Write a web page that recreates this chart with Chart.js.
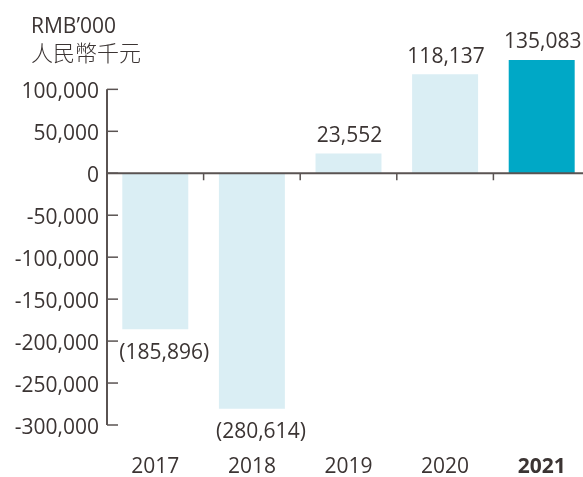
<!DOCTYPE html>
<html>
<head>
<meta charset="utf-8">
<script src="https://cdn.jsdelivr.net/npm/chart.js@4/dist/chart.umd.min.js"></script>
<style>
  html,body{margin:0;padding:0;background:#fff;overflow:hidden}
  #wrap{position:relative;width:583px;height:477px;overflow:hidden}
  #cv{position:absolute;left:0;top:0}
  .ttl{position:absolute;left:31px;color:#3b3433;line-height:26px;white-space:nowrap}
</style>
</head>
<body>
<div id="wrap">
  <canvas id="cv" width="600" height="477"></canvas>
  <div class="ttl" style="top:12px;font-size:21px;font-family:'Open Sans',sans-serif">RMB’000</div>
  <div class="ttl" style="top:38px;font-size:22px;font-family:'Noto Sans CJK TC',sans-serif;font-weight:300">人民幣千元</div>
</div>
<script>
/* ===== datos ===== */
const years=['2017','2018','2019','2020','2021'];
const profit=[-185896,-280614,23552,118137,135083];
const yTickVals=[100000,50000,0,-50000,-100000,-150000,-200000,-250000,-300000];

const TXT='#3b3433';
const AXIS='#5a5352';
const LIGHT='#daeef4';
const DARK='#00a8c6';
const FONT="'Open Sans',sans-serif";

const fmtK=v=>{const s=Math.abs(v).toLocaleString('en-US');return v<0?'('+s+')':s;};

// eje Y recortado + linea de cero con marcas
const axisPlugin={
  id:'axisPlugin',
  afterDatasetsDraw(chart){
    const {ctx,chartArea,scales:{x,y}}=chart;
    const left=chartArea.left;
    ctx.save();
    ctx.strokeStyle=AXIS;
    ctx.lineWidth=2;
    ctx.beginPath();
    ctx.moveTo(left,y.getPixelForValue(yTickVals[0]));
    ctx.lineTo(left,y.getPixelForValue(yTickVals[yTickVals.length-1]));
    ctx.stroke();
    ctx.lineWidth=1.5;
    yTickVals.forEach(v=>{
      const py=y.getPixelForValue(v);
      ctx.beginPath();ctx.moveTo(left,py);ctx.lineTo(left+11,py);ctx.stroke();
    });
    const y0=y.getPixelForValue(0);
    ctx.lineWidth=2;
    ctx.beginPath();ctx.moveTo(left,y0);ctx.lineTo(chartArea.right,y0);ctx.stroke();
    ctx.lineWidth=1.5;
    for(let i=1;i<years.length;i++){
      const px=(x.getPixelForValue(i-1)+x.getPixelForValue(i))/2;
      ctx.beginPath();ctx.moveTo(px,y0);ctx.lineTo(px,y0+7);ctx.stroke();
    }
    ctx.restore();
  }
};

// etiquetas de valor
const labelPlugin={
  id:'labelPlugin',
  afterDatasetsDraw(chart){
    const {ctx}=chart;
    const meta=chart.getDatasetMeta(0);
    ctx.save();
    ctx.fillStyle=TXT;
    ctx.font="21px "+FONT;
    ctx.textAlign='center';
    meta.data.forEach((bar,i)=>{
      const v=profit[i];
      if(v>=0){
        ctx.textBaseline='bottom';
        ctx.fillText(fmtK(v),bar.x+1,bar.y-7);
      }else{
        ctx.textBaseline='top';
        ctx.fillText(fmtK(v),bar.x+9,bar.y+13);
      }
    });
    ctx.restore();
  }
};

new Chart(document.getElementById('cv'),{
  type:'bar',
  data:{labels:years,datasets:[{
    data:profit,
    backgroundColor:years.map((_,i)=>i===years.length-1?DARK:LIGHT),
    borderWidth:0,
    categoryPercentage:1,
    barPercentage:0.683
  }]},
  options:{
    responsive:false,animation:false,
    layout:{padding:{top:39,right:10,left:0,bottom:0}},
    plugins:{legend:{display:false},tooltip:{enabled:false}},
    scales:{
      x:{
        grid:{display:false,drawTicks:false},border:{display:false},
        ticks:{color:TXT,padding:29,
          font:c=>({family:FONT,size:21,weight:c.index===years.length-1?'bold':'normal'})},
        afterFit:s=>{s.height=52;}
      },
      y:{
        min:-300000,max:160000,
        grid:{display:false,drawTicks:false},border:{display:false},
        afterBuildTicks:s=>{s.ticks=yTickVals.map(v=>({value:v}));},
        ticks:{color:TXT,padding:8,labelOffset:3,font:{family:FONT,size:21},
          callback:v=>v.toLocaleString('en-US')},
        afterFit:s=>{s.width=107;}
      }
    }
  },
  plugins:[axisPlugin,labelPlugin]
});
</script>
</body>
</html>
